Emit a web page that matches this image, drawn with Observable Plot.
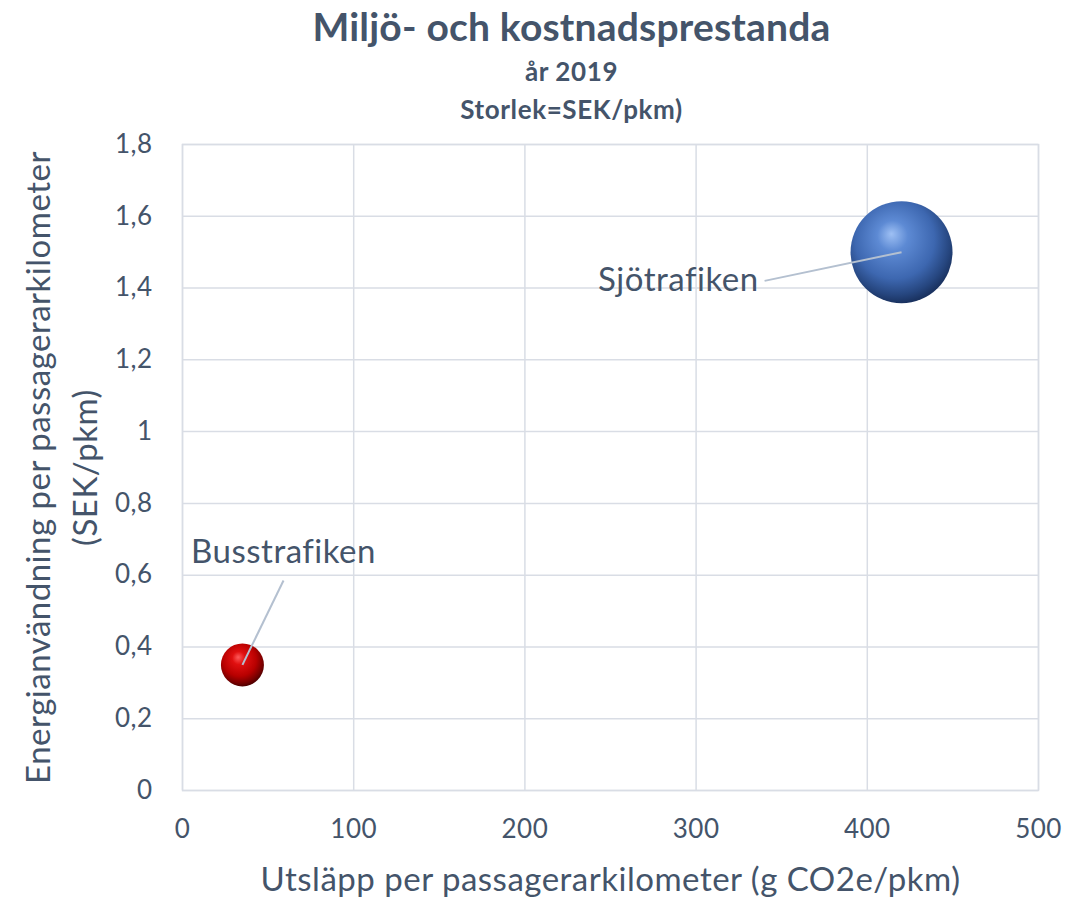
<!DOCTYPE html>
<html><head><meta charset="utf-8">
<script src="https://cdn.jsdelivr.net/npm/d3@7"></script>
<script src="https://cdn.jsdelivr.net/npm/@observablehq/plot@0.6"></script>
<style>
body{margin:0;background:#fff;font-family:Lato,"Open Sans",sans-serif;color:#44546a;}
#wrap{width:1087px;}
.t1{font-weight:700;font-size:39px;text-align:center;padding-left:56px;line-height:44px;padding-top:4px;letter-spacing:0.2px;height:48px;}
.t2{font-weight:700;font-size:26px;text-align:center;padding-left:56px;line-height:38px;letter-spacing:0.6px;}
svg{display:block;}
svg text{letter-spacing:0.5px;}
</style></head>
<body><div id="wrap">
<div class="t1">Miljö- och kostnadsprestanda</div>
<div class="t2" style="height:38px">år 2019</div>
<div class="t2" style="height:36px">Storlek=SEK/pkm)</div>
<div id="chart"></div>
</div>
<script>
const categories = ["Busstrafiken", "Sjötrafiken"];
const emissions = [35, 420];        // g CO2e/pkm
const energy = [0.35, 1.5];         // SEK/pkm (y)
const costSize = [1.6, 9];          // bubble size SEK/pkm
const labelX = [59, 340];           // leader line ends (data units)
const labelY = [0.585, 1.42];
const gradients = ["url(#gRed)", "url(#gBlue)"];
const xTicks = [0, 100, 200, 300, 400, 500];
const yTicks = [0, 0.2, 0.4, 0.6, 0.8, 1, 1.2, 1.4, 1.6, 1.8];

const data = categories.map((c, i) => ({name: c, x: emissions[i], y: energy[i], s: costSize[i], lx: labelX[i], ly: labelY[i], g: gradients[i]}));
const fmt = v => String(v).replace(".", ",");
const txt = "#44546a";

const plot = Plot.plot({
  width: 1087, height: 774,
  marginLeft: 182, marginRight: 49, marginTop: 18, marginBottom: 110,
  style: {fontFamily: "Lato, 'Open Sans', sans-serif", color: txt, background: "#fff"},
  x: {domain: [0, 500], ticks: xTicks, tickFormat: fmt, label: null},
  y: {domain: [0, 1.8], ticks: yTicks, tickFormat: fmt, label: null},
  r: {domain: [0, 9], range: [0, 51]},
  color: {type: "identity"},
  marks: [
    Plot.gridX(xTicks, {stroke: "#d9dde5", strokeOpacity: 1, strokeWidth: 1.5}),
    Plot.gridY(yTicks, {stroke: "#d9dde5", strokeOpacity: 1, strokeWidth: 1.5}),
    Plot.frame({stroke: "#d9dde5", strokeWidth: 1.5}),
    Plot.axisX({ticks: xTicks, tickFormat: fmt, tickSize: 0, tickPadding: 29, fontSize: 26, fill: txt, label: null}),
    Plot.axisY({ticks: yTicks, tickFormat: fmt, tickSize: 0, tickPadding: 30, fontSize: 26, fill: txt, label: null}),
    Plot.dot(data, {x: "x", y: "y", r: "s", fill: "g", stroke: null}),
    Plot.link(data, {x1: "x", y1: "y", x2: "lx", y2: "ly", stroke: "#b4c0d0", strokeWidth: 2}),
    Plot.text([data[1]], {x: "lx", y: "ly", text: "name", textAnchor: "end", dx: -6, fontSize: 33, fill: txt}),
    Plot.text([data[0]], {x: "lx", y: "ly", text: "name", textAnchor: "middle", dy: -28, fontSize: 33, fill: txt}),
    Plot.text(["Utsläpp per passagerarkilometer (g CO2e/pkm)"], {frameAnchor: "bottom", dy: 100, text: d => d, fontSize: 33, fill: txt}),
    Plot.text(["Energianvändning per passagerarkilometer\n(SEK/pkm)"], {frameAnchor: "left", dx: -124, rotate: -90, text: d => d, textAnchor: "middle", lineAnchor: "middle", lineHeight: 1.42, fontSize: 33, fill: txt})
  ]
});

const svg = d3.select(plot);
const defs = svg.insert("defs", ":first-child");
function grad(id, stops) {
  const g = defs.append("radialGradient").attr("id", id).attr("cx", "45%").attr("cy", "40%").attr("r", "60%").attr("fx", "40%").attr("fy", "32%");
  stops.forEach(([o, c]) => g.append("stop").attr("offset", o).attr("stop-color", c));
}
grad("gBlue", [["0%", "#9ec0f4"], ["25%", "#5d8ad4"], ["65%", "#3d67b0"], ["88%", "#26467f"], ["100%", "#1a3260"]]);
grad("gRed", [["0%", "#ff5a5a"], ["25%", "#e01010"], ["65%", "#b80000"], ["88%", "#7a0000"], ["100%", "#500000"]]);
document.getElementById("chart").appendChild(plot);
</script>
</body></html>
